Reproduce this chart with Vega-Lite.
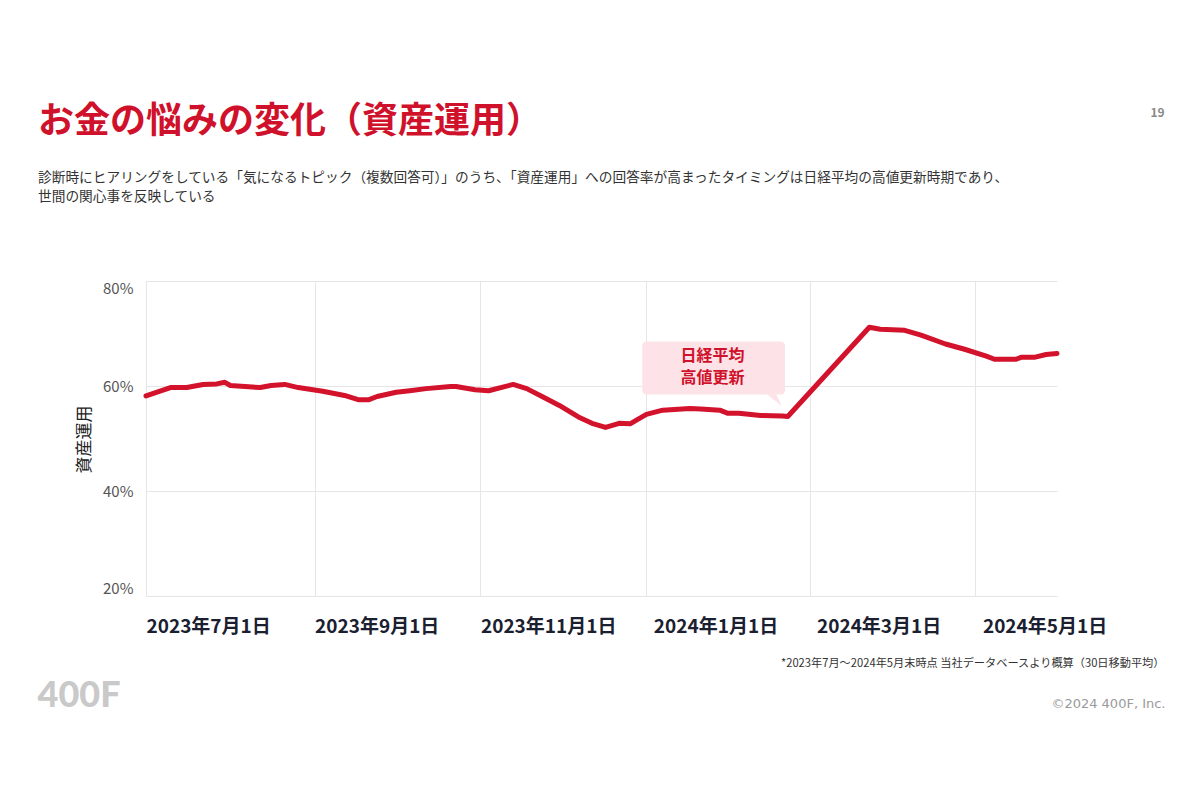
{
  "$schema": "https://vega.github.io/schema/vega-lite/v6.json",
  "width": 911,
  "height": 315,
  "autosize": "none",
  "padding": {"left": 146, "top": 281, "right": 143, "bottom": 204},
  "background": "#ffffff",
  "config": {"view": {"stroke": null}, "font": "Noto Sans CJK JP"},
  "title": {
    "text": "お金の悩みの変化（資産運用）",
    "subtitle": [
      "診断時にヒアリングをしている「気になるトピック（複数回答可）」のうち、「資産運用」への回答率が高まったタイミングは日経平均の高値更新時期であり、",
      "世間の関心事を反映している"
    ],
    "anchor": "start",
    "frame": "group",
    "dx": -108,
    "offset": -99,
    "font": "Noto Sans CJK JP",
    "fontSize": 36,
    "fontWeight": "bold",
    "color": "#d0112b",
    "subtitleFont": "Noto Sans CJK JP",
    "subtitleFontSize": 13.7,
    "subtitleColor": "#333333",
    "subtitleFontWeight": "normal",
    "subtitleLineHeight": 19,
    "subtitlePadding": 30
  },
  "resolve": {"axis": {"x": "independent", "y": "independent"}},
  "layer": [
    {
      "data": {"values": [{"start": "2023-12-30T12:00:00Z", "end": "2024-02-21T00:00:00Z", "top": 0.685, "bottom": 0.584}]},
      "mark": {"type": "rect", "color": "#fde3e7", "cornerRadius": 4},
      "encoding": {
        "x": {"field": "start", "type": "temporal", "axis": null,
              "scale": {"type": "utc", "domain": [{"year": 2023, "month": 7, "date": 1, "utc": true}, {"year": 2024, "month": 5, "date": 31, "utc": true}]}},
        "x2": {"field": "end"},
        "y": {"field": "top", "type": "quantitative", "scale": {"domain": [0.2, 0.8]},
              "axis": {"orient": "right", "labels": false, "ticks": false, "domain": false, "grid": false,
                       "title": "19", "titleX": 100, "titleY": -169, "titleAngle": 0, "titleAlign": "center", "titleBaseline": "middle",
                       "titleFont": "Noto Sans CJK JP", "titleFontSize": 12, "titleFontWeight": "bold", "titleColor": "#8a8a8a"}},
        "y2": {"field": "bottom"}
      }
    },
    {
      "data": {"values": [
        {"t": "2024-02-14T06:00:00Z", "top": 0.5842, "bottom": 0.5842},
        {"t": "2024-02-17T16:48:00Z", "top": 0.5842, "bottom": 0.5704},
        {"t": "2024-02-19T19:12:00Z", "top": 0.5619, "bottom": 0.5619}
      ]},
      "mark": {"type": "area", "color": "#fde3e7", "interpolate": "linear"},
      "encoding": {
        "x": {"field": "t", "type": "temporal", "axis": null,
              "scale": {"type": "utc", "domain": [{"year": 2023, "month": 7, "date": 1, "utc": true}, {"year": 2024, "month": 5, "date": 31, "utc": true}]}},
        "y": {"field": "top", "type": "quantitative", "axis": null, "scale": {"domain": [0.2, 0.8]}},
        "y2": {"field": "bottom"}
      }
    },
    {
      "data": {"values": [
        {"t": "2024-01-25T07:00:00Z", "v": 0.6566, "label": "日経平均"},
        {"t": "2024-01-25T07:00:00Z", "v": 0.6147, "label": "高値更新"}
      ]},
      "mark": {"type": "text", "font": "Noto Sans CJK JP", "fontSize": 16, "fontWeight": "bold", "color": "#d0112b", "align": "center", "baseline": "middle"},
      "encoding": {
        "x": {"field": "t", "type": "temporal",
              "scale": {"type": "utc", "domain": [{"year": 2023, "month": 7, "date": 1, "utc": true}, {"year": 2024, "month": 5, "date": 31, "utc": true}]},
              "axis": {"orient": "bottom", "labels": false, "ticks": false, "domain": false, "grid": false,
                       "title": "©2024 400F, Inc.", "titleX": 1019, "titleY": 107, "titleAngle": 0, "titleAlign": "right", "titleAnchor": "end", "titleBaseline": "middle",
                       "titleFont": "DejaVu Sans", "titleFontSize": 13, "titleFontWeight": "normal", "titleColor": "#9a9a9a"}},
        "y": {"field": "v", "type": "quantitative", "scale": {"domain": [0.2, 0.8]},
              "axis": {"orient": "left", "labels": false, "ticks": false, "domain": false, "grid": false,
                       "title": "400F", "titleX": -109, "titleY": 414, "titleAngle": 0, "titleAlign": "left", "titleBaseline": "middle",
                       "titleFont": "Lato", "titleFontSize": 36, "titleFontWeight": 900, "titleColor": "#c9c9c9"}},
        "text": {"field": "label"}
      }
    },
    {
      "data": {"values": [
        {"t": "2023-07-01", "v": 0.581},
        {"t": "2023-07-10", "v": 0.597},
        {"t": "2023-07-16", "v": 0.597},
        {"t": "2023-07-22", "v": 0.603},
        {"t": "2023-07-27", "v": 0.604},
        {"t": "2023-07-30", "v": 0.607},
        {"t": "2023-08-01", "v": 0.601},
        {"t": "2023-08-12", "v": 0.597},
        {"t": "2023-08-16", "v": 0.601},
        {"t": "2023-08-21", "v": 0.603},
        {"t": "2023-08-26", "v": 0.597},
        {"t": "2023-09-04", "v": 0.590},
        {"t": "2023-09-12", "v": 0.582},
        {"t": "2023-09-17", "v": 0.574},
        {"t": "2023-09-21", "v": 0.574},
        {"t": "2023-09-24", "v": 0.580},
        {"t": "2023-10-01", "v": 0.588},
        {"t": "2023-10-06", "v": 0.591},
        {"t": "2023-10-12", "v": 0.595},
        {"t": "2023-10-21", "v": 0.599},
        {"t": "2023-10-23", "v": 0.599},
        {"t": "2023-10-30", "v": 0.593},
        {"t": "2023-11-04", "v": 0.591},
        {"t": "2023-11-13", "v": 0.603},
        {"t": "2023-11-18", "v": 0.595},
        {"t": "2023-11-24", "v": 0.579},
        {"t": "2023-11-30", "v": 0.563},
        {"t": "2023-12-07", "v": 0.541},
        {"t": "2023-12-12", "v": 0.529},
        {"t": "2023-12-17", "v": 0.521},
        {"t": "2023-12-22", "v": 0.529},
        {"t": "2023-12-26", "v": 0.528},
        {"t": "2024-01-01", "v": 0.546},
        {"t": "2024-01-07", "v": 0.554},
        {"t": "2024-01-17", "v": 0.557},
        {"t": "2024-01-21", "v": 0.556},
        {"t": "2024-01-28", "v": 0.554},
        {"t": "2024-01-31", "v": 0.548},
        {"t": "2024-02-04", "v": 0.548},
        {"t": "2024-02-12", "v": 0.544},
        {"t": "2024-02-20", "v": 0.543},
        {"t": "2024-02-22", "v": 0.542},
        {"t": "2024-03-23", "v": 0.712},
        {"t": "2024-03-27", "v": 0.708},
        {"t": "2024-04-05", "v": 0.706},
        {"t": "2024-04-11", "v": 0.697},
        {"t": "2024-04-20", "v": 0.680},
        {"t": "2024-04-27", "v": 0.670},
        {"t": "2024-05-05", "v": 0.657},
        {"t": "2024-05-08", "v": 0.651},
        {"t": "2024-05-16", "v": 0.651},
        {"t": "2024-05-18", "v": 0.655},
        {"t": "2024-05-23", "v": 0.655},
        {"t": "2024-05-27", "v": 0.660},
        {"t": "2024-05-31", "v": 0.662}
      ]},
      "mark": {"type": "line", "color": "#d3122c", "strokeWidth": 5, "strokeCap": "round", "strokeJoin": "round"},
      "encoding": {
        "x": {"field": "t", "type": "temporal",
              "scale": {"type": "utc", "domain": [{"year": 2023, "month": 7, "date": 1, "utc": true}, {"year": 2024, "month": 5, "date": 31, "utc": true}]},
              "axis": {"orient": "bottom",
                       "values": [{"year": 2023, "month": 7, "date": 1, "utc": true}, {"year": 2023, "month": 9, "date": 1, "utc": true}, {"year": 2023, "month": 11, "date": 1, "utc": true}, {"year": 2024, "month": 1, "date": 1, "utc": true}, {"year": 2024, "month": 3, "date": 1, "utc": true}, {"year": 2024, "month": 5, "date": 1, "utc": true}],
                       "labelExpr": "utcFormat(datum.value, '%Y年%-m月%-d日')",
                       "labelAlign": "left", "labelBaseline": "top", "labelPadding": 21,
                       "labelOffset": {"condition": {"test": "utcyear(datum.value) >= 2024", "value": 7}, "value": 0},
                       "labelFont": "Noto Sans CJK JP", "labelFontSize": 19, "labelFontWeight": "bold", "labelColor": "#1b2030",
                       "labelOverlap": false, "labelFlush": false,
                       "ticks": false, "domain": false, "grid": true, "gridColor": "#e6e6e6", "gridWidth": 1,
                       "title": "*2023年7月〜2024年5月末時点 当社データベースより概算（30日移動平均）",
                       "titleX": 1018, "titleY": 67, "titleAngle": 0, "titleAlign": "right", "titleAnchor": "end", "titleBaseline": "middle",
                       "titleFont": "Noto Sans CJK JP", "titleFontSize": 11.2, "titleFontWeight": "normal", "titleColor": "#333333"}},
        "y": {"field": "v", "type": "quantitative", "scale": {"domain": [0.2, 0.8]},
              "axis": {"orient": "left", "values": [0.2, 0.4, 0.6, 0.8], "format": ".0%",
                       "labelFont": "Noto Sans CJK JP", "labelFontSize": 15, "labelColor": "#555555", "labelPadding": 13,
                       "labelFlush": true, "labelFlushOffset": 0,
                       "ticks": false, "domain": false, "grid": true, "gridColor": "#e6e6e6", "gridWidth": 1,
                       "title": "資産運用", "titleX": -62, "titleY": 158, "titleAngle": -90, "titleAlign": "center", "titleBaseline": "middle",
                       "titleFont": "Noto Sans CJK JP", "titleFontSize": 17, "titleFontWeight": "normal", "titleColor": "#222222"}}
      }
    }
  ]
}
